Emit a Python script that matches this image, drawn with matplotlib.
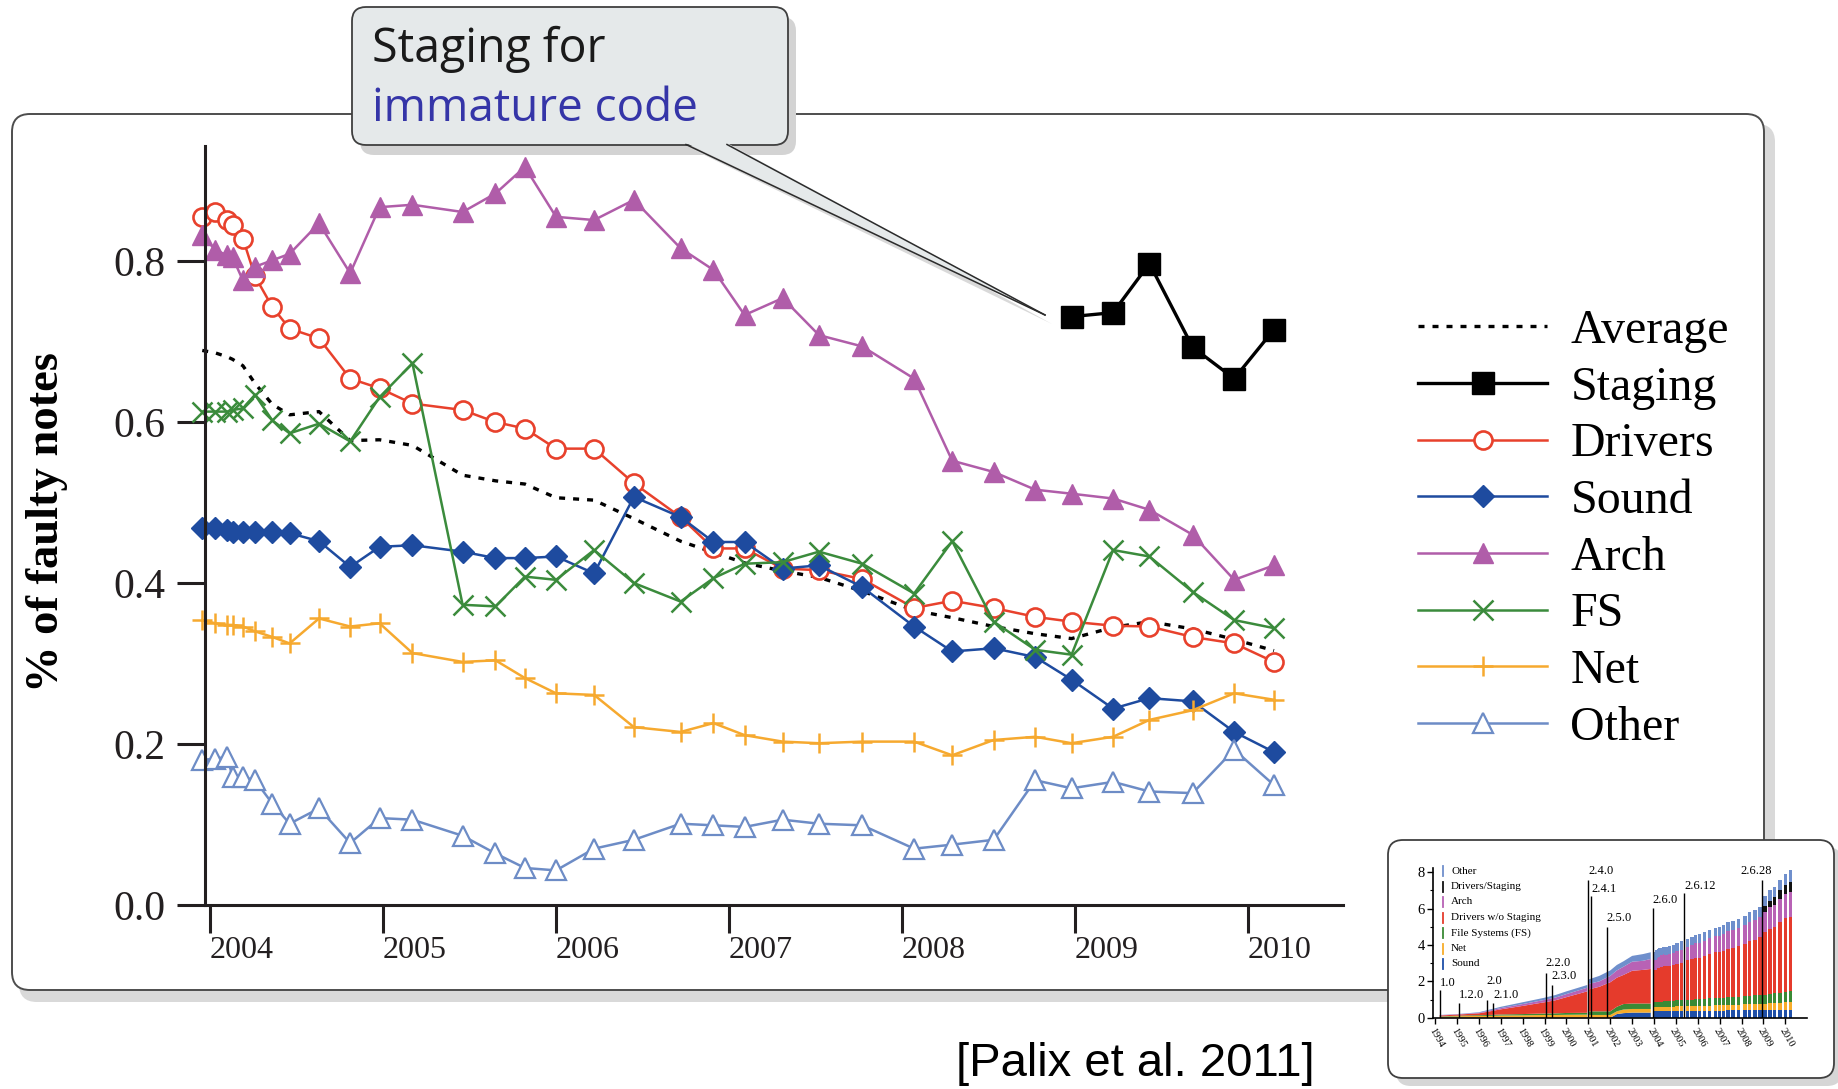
import numpy as np
import matplotlib
matplotlib.use('Agg')
import matplotlib.pyplot as plt
from matplotlib.patches import FancyBboxPatch, Polygon

plt.rcParams['font.family'] = 'serif'
plt.rcParams['font.serif'] = ['Liberation Serif', 'DejaVu Serif']

#################### DATOS ####################

# fechas de las versiones 2.6.x (año decimal)
releases = [2003.955, 2004.03, 2004.10, 2004.13, 2004.19, 2004.26, 2004.36, 2004.46,
            2004.63, 2004.81, 2004.98, 2005.17, 2005.46, 2005.65, 2005.82, 2006.00,
            2006.22, 2006.45, 2006.72, 2006.91, 2007.09, 2007.31, 2007.52, 2007.77,
            2008.07, 2008.29, 2008.53, 2008.77, 2008.98, 2009.22, 2009.43, 2009.68,
            2009.92, 2010.15]

average = [0.689, 0.686, 0.681, 0.678, 0.670, 0.648, 0.622, 0.609, 0.613, 0.577,
           0.578, 0.571, 0.534, 0.527, 0.523, 0.506, 0.503, 0.480, 0.452, 0.438,
           0.425, 0.415, 0.407, 0.390, 0.366, 0.357, 0.346, 0.337, 0.331, 0.345,
           0.352, 0.343, 0.330, 0.316]
drivers = [0.855, 0.861, 0.851, 0.845, 0.828, 0.781, 0.743, 0.716, 0.704, 0.654,
           0.642, 0.623, 0.615, 0.600, 0.592, 0.567, 0.567, 0.524, 0.482, 0.443,
           0.443, 0.418, 0.416, 0.405, 0.369, 0.378, 0.369, 0.358, 0.352, 0.347,
           0.346, 0.333, 0.325, 0.302]
sound = [0.468, 0.469, 0.466, 0.464, 0.464, 0.464, 0.463, 0.462, 0.452, 0.420,
         0.445, 0.447, 0.439, 0.431, 0.431, 0.433, 0.412, 0.507, 0.482, 0.451,
         0.451, 0.418, 0.422, 0.395, 0.346, 0.315, 0.319, 0.308, 0.280, 0.244,
         0.257, 0.253, 0.215, 0.190]
arch = [0.832, 0.814, 0.807, 0.805, 0.776, 0.793, 0.801, 0.809, 0.847, 0.785,
        0.867, 0.870, 0.861, 0.884, 0.917, 0.855, 0.851, 0.876, 0.816, 0.789,
        0.733, 0.754, 0.708, 0.694, 0.654, 0.552, 0.538, 0.516, 0.511, 0.505,
        0.491, 0.460, 0.404, 0.422]
fs = [0.613, 0.613, 0.613, 0.615, 0.617, 0.634, 0.602, 0.586, 0.598, 0.576,
      0.631, 0.673, 0.373, 0.371, 0.408, 0.404, 0.441, 0.400, 0.377, 0.406,
      0.424, 0.426, 0.439, 0.424, 0.387, 0.452, 0.352, 0.317, 0.311, 0.441,
      0.433, 0.389, 0.354, 0.344]
net = [0.354, 0.350, 0.348, 0.348, 0.346, 0.340, 0.333, 0.325, 0.356, 0.346,
       0.350, 0.313, 0.302, 0.304, 0.282, 0.263, 0.261, 0.221, 0.215, 0.226,
       0.211, 0.203, 0.201, 0.203, 0.203, 0.186, 0.205, 0.209, 0.201, 0.209,
       0.230, 0.242, 0.263, 0.255]
other = [0.180, 0.182, 0.184, 0.159, 0.159, 0.155, 0.126, 0.101, 0.120, 0.077,
         0.108, 0.106, 0.086, 0.064, 0.046, 0.043, 0.070, 0.081, 0.101, 0.099,
         0.097, 0.106, 0.101, 0.099, 0.070, 0.075, 0.081, 0.155, 0.145, 0.153,
         0.141, 0.139, 0.193, 0.149]
# staging solo existe desde 2.6.28
staging_dates = releases[28:]
staging = [0.731, 0.736, 0.797, 0.693, 0.654, 0.715]

years = [2004, 2005, 2006, 2007, 2008, 2009, 2010]
yticks = [0.0, 0.2, 0.4, 0.6, 0.8]

# miniatura: tamaño del kernel (MLOC) por subsistema
inset_years = list(range(1994, 2011))
dates_a = [1994.2, 1995.0, 1996.0, 1996.5, 1997.0, 1998.0, 1999.0, 1999.5, 2000.0, 2000.95]
sound_a = [0.0, 0.0, 0.0, 0.0, 0.0, 0.0, 0.0, 0.0, 0.0, 0.0]
net_a = [0.05, 0.08, 0.10, 0.10, 0.12, 0.13, 0.15, 0.15, 0.16, 0.17]
fs_a = [0.02, 0.03, 0.04, 0.05, 0.06, 0.07, 0.08, 0.09, 0.10, 0.10]
drv_a = [0.05, 0.06, 0.10, 0.20, 0.28, 0.45, 0.62, 0.72, 0.87, 1.18]
arch_a = [0.02, 0.02, 0.03, 0.05, 0.07, 0.10, 0.13, 0.15, 0.17, 0.20]
other_a = [0.01, 0.01, 0.03, 0.05, 0.07, 0.10, 0.12, 0.14, 0.15, 0.15]

dates_b = [2001.0, 2001.5, 2002.0, 2002.3, 2002.6, 2003.0, 2003.5, 2003.85]
sound_b = [0.0, 0.0, 0.0, 0.20, 0.25, 0.28, 0.28, 0.28]
net_b = [0.15, 0.15, 0.15, 0.15, 0.20, 0.20, 0.20, 0.20]
fs_b = [0.20, 0.20, 0.20, 0.25, 0.30, 0.30, 0.30, 0.30]
drv_b = [1.20, 1.35, 1.60, 1.60, 1.60, 1.80, 1.85, 1.90]
arch_b = [0.30, 0.30, 0.35, 0.40, 0.45, 0.50, 0.50, 0.55]
other_b = [0.25, 0.30, 0.30, 0.30, 0.30, 0.32, 0.37, 0.37]

sound_c = [0.35, 0.35, 0.35, 0.35, 0.35, 0.35, 0.36, 0.36, 0.36, 0.36, 0.37, 0.37,
           0.37, 0.37, 0.38, 0.38, 0.38, 0.38, 0.39, 0.39, 0.39, 0.40, 0.40, 0.40,
           0.41, 0.41, 0.42, 0.42, 0.42, 0.43, 0.43, 0.44, 0.45, 0.45]
net_c = [0.22, 0.22, 0.22, 0.22, 0.22, 0.23, 0.23, 0.23, 0.24, 0.24, 0.25, 0.25,
         0.26, 0.26, 0.27, 0.28, 0.28, 0.29, 0.30, 0.30, 0.31, 0.31, 0.32, 0.32,
         0.33, 0.33, 0.34, 0.34, 0.35, 0.36, 0.37, 0.38, 0.39, 0.40]
fs_c = [0.30, 0.30, 0.30, 0.30, 0.30, 0.31, 0.31, 0.31, 0.32, 0.32, 0.33, 0.33,
        0.34, 0.35, 0.36, 0.37, 0.38, 0.39, 0.40, 0.40, 0.41, 0.42, 0.43, 0.44,
        0.45, 0.46, 0.47, 0.48, 0.50, 0.52, 0.54, 0.56, 0.58, 0.60]
drv_c = [1.78, 1.86, 1.89, 1.92, 1.95, 1.92, 1.95, 1.93, 1.94, 1.96, 2.01, 2.08,
         2.18, 2.24, 2.28, 2.28, 2.35, 2.45, 2.50, 2.52, 2.58, 2.67, 2.68, 2.78,
         2.86, 3.01, 3.04, 3.19, 3.42, 3.57, 3.63, 3.89, 4.04, 4.11]
arch_c = [0.55, 0.57, 0.58, 0.60, 0.61, 0.62, 0.63, 0.64, 0.66, 0.68, 0.70, 0.72,
          0.75, 0.77, 0.80, 0.82, 0.84, 0.86, 0.88, 0.90, 0.92, 0.95, 0.97, 1.00,
          1.03, 1.06, 1.09, 1.12, 1.15, 1.20, 1.25, 1.28, 1.32, 1.35]
stag_c = [0.0, 0.0, 0.0, 0.0, 0.0, 0.0, 0.0, 0.0, 0.0, 0.0, 0.0, 0.0,
          0.0, 0.0, 0.0, 0.0, 0.0, 0.0, 0.0, 0.0, 0.0, 0.0, 0.0, 0.0,
          0.0, 0.0, 0.0, 0.0, 0.30, 0.35, 0.40, 0.45, 0.50, 0.55]
other_c = [0.40, 0.40, 0.41, 0.41, 0.42, 0.42, 0.42, 0.43, 0.43, 0.44, 0.44, 0.45,
           0.45, 0.46, 0.46, 0.47, 0.47, 0.48, 0.48, 0.49, 0.49, 0.50, 0.50, 0.51,
           0.52, 0.53, 0.54, 0.55, 0.56, 0.57, 0.58, 0.60, 0.62, 0.64]

versions = ['1.0', '1.2.0', '2.0', '2.1.0', '2.2.0', '2.3.0', '2.4.0', '2.4.1', '2.5.0',
            '2.6.0', '2.6.12', '2.6.28']
version_dates = [1994.2, 1995.1, 1996.36, 1996.66, 1999.05, 1999.33, 2001.0, 2001.12,
                 2001.84, 2003.94, 2005.38, 2008.95]
version_tops = [1.53, 0.80, 0.98, 0.80, 2.45, 1.80, 7.60, 6.70, 5.00, 6.04, 6.87, 7.60]
version_text_y = [1.90, 1.25, 2.00, 1.25, 3.00, 2.27, 8.07, 7.06, 5.50, 6.50, 7.24, 8.07]

inset_names = ['Other', 'Drivers/Staging', 'Arch', 'Drivers w/o Staging',
               'File Systems (FS)', 'Net', 'Sound']

#################### FIGURA ####################

W, H = 1838, 1089


def px_axes(x0, y0, x1, y1):
    # caja en pixeles (origen arriba a la izquierda) -> fracción de figura
    return [x0 / W, 1 - y1 / H, (x1 - x0) / W, (y1 - y0) / H]


def rbox(ax, x0, y0, x1, y1, r, fc, ec, lw, z):
    ax.add_patch(FancyBboxPatch((x0, y0), x1 - x0, y1 - y0,
                                boxstyle=f"round,pad=0,rounding_size={r}",
                                fc=fc, ec=ec, lw=lw, zorder=z))


fig = plt.figure(figsize=(W / 100, H / 100), dpi=100)
bg = fig.add_axes([0, 0, 1, 1], zorder=0)
bg.set_xlim(0, W)
bg.set_ylim(H, 0)
bg.axis('off')

# marco principal con sombra
rbox(bg, 19, 124, 1775, 1002, 18, '#d9d9d9', 'none', 0, 1)
rbox(bg, 12, 114, 1764, 990, 18, 'white', '#4d4d4d', 1.4, 2)

# globo "Staging for immature code"
rbox(bg, 360, 17, 796, 155, 14, '#d3d3d3', 'none', 0, 3)
bg.add_patch(Polygon([(694, 150), (735, 150), (1052, 324)], closed=True,
                     fc='#d9d9d9', ec='none', zorder=3))
rbox(bg, 352, 7, 788, 145, 14, '#e5e9ea', '#3f3f3f', 1.3, 4)
bg.add_patch(Polygon([(686, 143), (727, 143), (1045, 315)], closed=True,
                     fc='#e5e9ea', ec='none', zorder=5))
bg.plot([686, 1045], [144.5, 315], color='#2b2b2b', lw=1.1, zorder=6)
bg.plot([727, 1045], [144.5, 315], color='#2b2b2b', lw=1.1, zorder=6)
bg.text(372, 62, 'Staging for', fontsize=33.5, family='Open Sans', color='#1a1a1a',
        va='baseline', ha='left', zorder=7)
bg.text(372, 121, 'immature code', fontsize=33, family='Open Sans', color='#3535a8',
        va='baseline', ha='left', zorder=7)

# etiqueta del eje y y referencia
bg.text(47, 522, '% of faulty notes', rotation=90, ha='center', va='center',
        fontsize=33.5, fontweight='bold', zorder=7)
bg.text(1135, 1064, '[Palix et al. 2011]', ha='center', va='center', fontsize=34,
        family='Liberation Sans', zorder=7)

#################### GRÁFICA PRINCIPAL ####################

ax = fig.add_axes(px_axes(204.5, 146, 1343, 905), zorder=2)
ax.patch.set_alpha(0)
axis_col = '#231f20'

ax.plot(releases, average, color='black', lw=2.4, linestyle=(0, (1.8, 2.4)),
        label='Average', clip_on=False)
ax.plot(staging_dates, staging, color='black', lw=2.4, marker='s', ms=16,
        label='Staging', clip_on=False)
ax.plot(releases, drivers, color='#e8412c', lw=1.8, marker='o', ms=13, mfc='white',
        mew=1.9, label='Drivers', clip_on=False)
ax.plot(releases, sound, color='#1e4b9f', lw=1.8, marker='D', ms=11,
        label='Sound', clip_on=False)
ax.plot(releases, arch, color='#b05da9', lw=1.8, marker='^', ms=15,
        label='Arch', clip_on=False)
ax.plot(releases, fs, color='#3b8b3c', lw=1.8, marker='x', ms=15, mew=1.8,
        label='FS', clip_on=False)
ax.plot(releases, net, color='#f6a92f', lw=1.8, marker='+', ms=15, mew=1.8,
        label='Net', clip_on=False)
ax.plot(releases, other, color='#6d8cc6', lw=1.8, marker='^', ms=15, mfc='white',
        mew=1.6, label='Other', clip_on=False)

ax.set_xlim(2003.968, 2010.549)
ax.set_ylim(0, 0.943)
ax.set_xticks(years)
ax.set_xticklabels([str(y) for y in years])
ax.set_yticks(yticks)
ax.set_yticklabels(['%.1f' % v for v in yticks])
for lbl in ax.get_xticklabels():
    lbl.set_ha('left')
ax.tick_params(axis='both', direction='out', length=20, width=2.2, color=axis_col,
               labelcolor='#231f20')
ax.tick_params(axis='x', labelsize=23, pad=2)
ax.tick_params(axis='y', labelsize=30, pad=8)
for s in ['top', 'right']:
    ax.spines[s].set_visible(False)
for s in ['left', 'bottom']:
    ax.spines[s].set_linewidth(2.2)
    ax.spines[s].set_color(axis_col)

ax.legend(loc='upper left', bbox_to_anchor=(1418 / W, 1 - 309 / H),
          bbox_transform=fig.transFigure, frameon=False, fontsize=34.5,
          handlelength=2.7, handletextpad=0.48, labelspacing=0.265,
          borderpad=0, borderaxespad=0)

#################### MINIATURA ####################

rbox(bg, 1396, 847, 1842, 1086, 15, '#d6d6d6', 'none', 0, 8)
rbox(bg, 1388, 840, 1834, 1078, 15, 'white', '#404040', 1.3, 9)

icol = {'Sound': '#1f4fa8', 'Net': '#f7ac2a', 'FS': '#3a8a35', 'Drivers': '#e53b2c',
        'Arch': '#b862b5', 'Staging': '#111111', 'Other': '#6f8fcc'}
seg_cols = [icol['Sound'], icol['Net'], icol['FS'], icol['Drivers'], icol['Arch'],
            icol['Other']]

iax = fig.add_axes(px_axes(1433, 867.7, 1807, 1017.7), zorder=4)
iax.patch.set_visible(False)
iax.stackplot(dates_a, sound_a, net_a, fs_a, drv_a, arch_a, other_a, colors=seg_cols,
              lw=0)
iax.stackplot(dates_b, sound_b, net_b, fs_b, drv_b, arch_b, other_b, colors=seg_cols,
              lw=0)

stack_c = [sound_c, net_c, fs_c, drv_c, arch_c, stag_c, other_c]
cols_c = [icol['Sound'], icol['Net'], icol['FS'], icol['Drivers'], icol['Arch'],
          icol['Staging'], icol['Other']]
bottom = np.zeros(len(releases))
for vals, c in zip(stack_c, cols_c):
    iax.bar(releases, vals, bottom=bottom, width=0.16, align='edge', color=c, lw=0)
    bottom = bottom + np.array(vals)

iax.vlines(version_dates, 0, version_tops, color='black', lw=1.0)
for name, d, ty in zip(versions, version_dates, version_text_y):
    iax.text(d if name != '2.6.28' else d - 1.0, ty, name, fontsize=9, ha='left',
             va='center')

iax.set_xlim(1993.9, 2010.99)
iax.set_ylim(0, 8.25)
iax.set_yticks([0, 2, 4, 6, 8])
iax.set_yticks([1, 3, 5, 7], minor=True)
iax.set_xticks(inset_years)
iax.set_xticklabels([str(y) for y in inset_years], rotation=-60, ha='left',
                    va='top', rotation_mode='anchor', fontsize=7.5)
iax.tick_params(axis='y', labelsize=10.5, length=4, width=1, pad=2)
iax.tick_params(axis='y', which='minor', length=2.5, width=0.8)
iax.tick_params(axis='x', length=4, width=1, pad=2)
for s in ['top', 'right']:
    iax.spines[s].set_visible(False)
for s in ['left', 'bottom']:
    iax.spines[s].set_linewidth(1.2)

# leyenda de la miniatura
leg_cols = [icol['Other'], icol['Staging'], icol['Arch'], icol['Drivers'], icol['FS'],
            icol['Net'], icol['Sound']]
for i, (name, c) in enumerate(zip(inset_names, leg_cols)):
    yy = 871 + i * 15.5
    bg.plot([1443, 1443], [yy - 5, yy + 5], color=c, lw=1.3, zorder=10)
    bg.text(1451, yy, name, fontsize=8, ha='left', va='center', zorder=10)

fig.savefig('out.png', dpi=100)
